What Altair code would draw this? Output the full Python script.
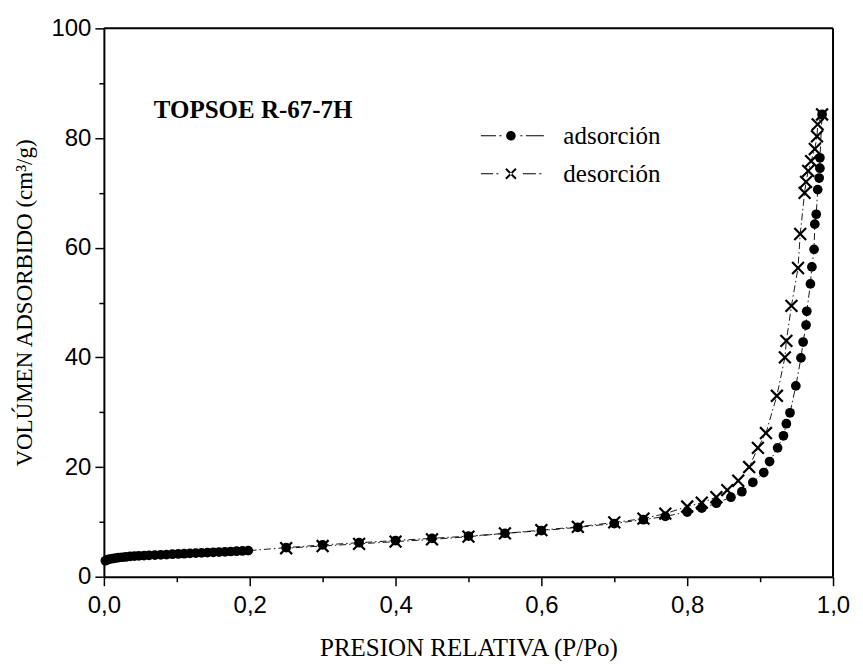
import altair as alt
import pandas as pd

# Adsorción branch (P/Po, volumen cm3/g)
ads_x = [0.002, 0.005, 0.008, 0.012, 0.016, 0.020, 0.025, 0.030, 0.036, 0.042,
         0.048, 0.055, 0.062, 0.070, 0.078, 0.086, 0.094, 0.102, 0.110, 0.118,
         0.126, 0.134, 0.142, 0.150, 0.158, 0.166, 0.174, 0.182, 0.190, 0.198,
         0.25, 0.30, 0.35, 0.40, 0.45, 0.50, 0.55, 0.60, 0.65, 0.70,
         0.74, 0.77, 0.80, 0.82, 0.84, 0.86, 0.875, 0.89, 0.905, 0.913,
         0.924, 0.932, 0.936, 0.941, 0.949, 0.956, 0.959, 0.963, 0.964, 0.969,
         0.971, 0.974, 0.975, 0.977, 0.979, 0.981, 0.982, 0.982, 0.985]
ads_y = [2.9, 3.1, 3.2, 3.3, 3.4, 3.5, 3.55, 3.6, 3.7, 3.75,
         3.8, 3.85, 3.9, 3.95, 4.0, 4.05, 4.1, 4.15, 4.2, 4.25,
         4.3, 4.35, 4.4, 4.45, 4.5, 4.55, 4.6, 4.65, 4.7, 4.75,
         5.3, 5.8, 6.2, 6.6, 7.0, 7.4, 7.9, 8.4, 9.0, 9.7,
         10.4, 11.0, 11.8, 12.5, 13.4, 14.5, 15.5, 17.2, 19.0, 21.0,
         23.5, 25.7, 27.9, 29.9, 34.8, 39.9, 42.8, 45.9, 48.4, 53.4,
         56.5, 59.7, 64.3, 66.1, 70.6, 72.7, 74.5, 76.4, 84.3]

# Desorción branch
des_x = [0.985, 0.979, 0.978, 0.975, 0.970, 0.966, 0.963, 0.961, 0.955, 0.952,
         0.943, 0.936, 0.934, 0.923, 0.908, 0.897, 0.885, 0.870, 0.855, 0.840,
         0.820, 0.800, 0.770, 0.740, 0.700, 0.650, 0.600, 0.550, 0.500, 0.450,
         0.400, 0.350, 0.300, 0.250]
des_y = [84.3, 82.5, 80.3, 78.0, 75.8, 74.0, 72.0, 70.0, 62.5, 56.3,
         49.4, 43.0, 40.0, 33.0, 26.2, 23.5, 20.0, 17.5, 15.8, 14.5,
         13.5, 12.8, 11.5, 10.6, 9.9, 9.1, 8.5, 7.9, 7.3, 6.8,
         6.4, 6.0, 5.6, 5.2]

series_names = ["adsorción", "desorción"]

ads = pd.DataFrame({"p": ads_x, "v": ads_y, "serie": series_names[0]})
ads["i"] = range(len(ads))
des = pd.DataFrame({"p": des_x, "v": des_y, "serie": series_names[1]})
des["i"] = range(len(des))
alld = pd.concat([ads, des], ignore_index=True)

W, H = 730, 549
xscale = alt.Scale(domain=[0, 1], nice=False, zero=False)
yscale = alt.Scale(domain=[0, 100], nice=False)

tick_cond_x = {"condition": {"test": "round(datum.value*10) % 2 === 0", "value": 9}, "value": 5}
tick_cond_y = {"condition": {"test": "round(datum.value) % 20 === 0", "value": 9}, "value": 5}

xaxis = alt.Axis(
    title="PRESION RELATIVA (P/Po)",
    values=[0, 0.1, 0.2, 0.3, 0.4, 0.5, 0.6, 0.7, 0.8, 0.9, 1.0],
    labelExpr="round(datum.value*10) % 2 === 0 ? replace(format(datum.value, '.1f'), '.', ',') : ''",
    grid=False, domain=True, domainColor="black", domainWidth=2,
    tickColor="black", tickWidth=1.5, tickSize=tick_cond_x,
    labelFont="Liberation Sans", labelFontSize=24, labelColor="black", labelPadding=8,
    titleFont="Liberation Serif", titleFontSize=25, titleFontWeight="normal",
    titleColor="black", titlePadding=18, labelFlush=False,
)
yaxis = alt.Axis(
    title="VOLÚMEN ADSORBIDO (cm³/g)",
    values=[0, 10, 20, 30, 40, 50, 60, 70, 80, 90, 100],
    labelExpr="round(datum.value) % 20 === 0 ? format(datum.value, 'd') : ''",
    grid=False, domain=True, domainColor="black", domainWidth=2,
    tickColor="black", tickWidth=1.5, tickSize=tick_cond_y,
    labelFont="Liberation Sans", labelFontSize=24, labelColor="black", labelPadding=4,
    titleFont="Liberation Serif", titleFontSize=23, titleFontWeight="normal",
    titleColor="black", titlePadding=14, labelFlush=False,
)

dash = [7, 3, 1.5, 3]
xpath = "M-1,-1L1,1M-1,1L1,-1"

base_ads = alt.Chart(ads)
base_des = alt.Chart(des)

ads_line = base_ads.mark_line(color="black", strokeWidth=0.9, strokeDash=dash).encode(
    x=alt.X("p:Q", scale=xscale, axis=xaxis),
    y=alt.Y("v:Q", scale=yscale, axis=yaxis),
    order="i:Q",
)
des_line = base_des.mark_line(color="black", strokeWidth=0.9, strokeDash=dash).encode(
    x=alt.X("p:Q", scale=xscale),
    y=alt.Y("v:Q", scale=yscale),
    order="i:Q",
)
ads_pts = base_ads.mark_point(shape="circle", filled=True, color="black", size=95, opacity=1).encode(
    x=alt.X("p:Q", scale=xscale),
    y=alt.Y("v:Q", scale=yscale),
)
des_pts = base_des.mark_point(shape=xpath, filled=False, color="black", size=140, strokeWidth=2.2, opacity=1).encode(
    x=alt.X("p:Q", scale=xscale),
    y=alt.Y("v:Q", scale=yscale),
)

# legend glyphs (filled outlines only): dash-dot line with dot / cross
leg_ads = ("M-3,-0.06H-1.5V0.06H-3Z"
           "M-1.15,-0.06H-0.95V0.06H-1.15Z"
           "M0.48,0A0.48,0.48 0 1,1 -0.48,0A0.48,0.48 0 1,1 0.48,0Z"
           "M0.95,-0.06H1.15V0.06H0.95Z"
           "M1.5,-0.06H3.3V0.06H1.5Z")
leg_des = ("M-3,-0.05H-1.8V0.05H-3Z"
           "M-1.45,-0.05H-1.25V0.05H-1.45Z"
           "M-0.43,-0.57L0.57,0.43L0.43,0.57L-0.57,-0.43Z"
           "M-0.43,0.57L0.57,-0.43L0.43,-0.57L-0.57,0.43Z"
           "M1.2,-0.05H2.5V0.05H1.2Z"
           "M2.85,-0.05H3.05V0.05H2.85Z")

legend_layer = alt.Chart(alld).transform_filter("datum.p < 0").mark_point(
    filled=True, color="black", opacity=1
).encode(
    x=alt.X("p:Q", scale=xscale),
    y=alt.Y("v:Q", scale=yscale),
    shape=alt.Shape("serie:N", scale=alt.Scale(domain=series_names, range=[leg_ads, leg_des]),
                    legend=alt.Legend(
                        title=None, orient="none", legendX=395, legendY=95,
                        symbolSize=400, symbolFillColor="black", symbolStrokeWidth=0,
                        labelOffset=40, labelFont="Liberation Serif", labelFontSize=25,
                        labelColor="black", rowPadding=12, padding=0, symbolOpacity=1,
                    )),
)

title_txt = alt.Chart(pd.DataFrame({"t": ["TOPSOE R-67-7H"]})).mark_text(
    font="Liberation Serif", fontSize=25, fontWeight="bold", align="left", baseline="middle", color="black"
).encode(x=alt.value(50), y=alt.value(82), text="t:N")

# frame: top and right border of the plot area
frame_top = alt.Chart(pd.DataFrame({"k": [0]})).mark_rule(color="black", strokeWidth=2).encode(
    x=alt.value(0), x2=alt.value(W), y=alt.value(0)
)
frame_right = alt.Chart(pd.DataFrame({"k": [0]})).mark_rule(color="black", strokeWidth=2).encode(
    x=alt.value(W), y=alt.value(0), y2=alt.value(H)
)

chart = alt.layer(ads_line, des_line, ads_pts, des_pts, legend_layer, title_txt,
                  frame_top, frame_right).properties(
    width=W, height=H, background="white",
    padding={"left": 5, "top": 8, "right": 5, "bottom": 5}
).configure_view(stroke=None)

chart.save("out.html", embed_options={"renderer": "svg", "actions": False})
